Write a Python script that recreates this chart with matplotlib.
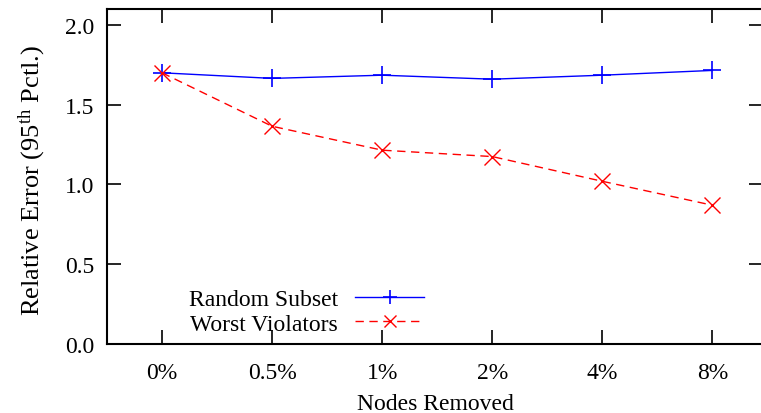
import matplotlib
matplotlib.use("Agg")
import matplotlib.pyplot as plt
import numpy as np

categories = ["0%", "0.5%", "1%", "2%", "4%", "8%"]
random_subset = [1.70, 1.665, 1.685, 1.66, 1.685, 1.715]
worst_violators = [1.70, 1.365, 1.215, 1.175, 1.02, 0.87]
yticks = [0.0, 0.5, 1.0, 1.5, 2.0]

plt.rcParams["font.family"] = ["Liberation Serif", "DejaVu Serif"]
plt.rcParams["mathtext.fontset"] = "custom"
plt.rcParams["mathtext.rm"] = "Liberation Serif"
plt.rcParams["mathtext.it"] = "Liberation Serif"

FS = 17

fig = plt.figure(figsize=(7.61, 4.14), dpi=100)
ax = fig.add_axes([107 / 761, 1 - 345 / 414, (763 - 107) / 761, (345 - 10) / 414])

x = np.arange(len(categories))
ax.plot(x, random_subset, color="#0000ff", lw=1.0, marker="+", ms=13, mew=1.2,
        label="Random Subset")
ax.plot(x, worst_violators, color="#ff0000", lw=1.0, ls=(0, (6, 4)), marker="x",
        ms=11, mew=1.0, label="Worst Violators")

ax.set_xlim(-0.5, 5.46)
ax.set_ylim(0, 2.1)
ax.set_xticks(x)
ax.set_xticklabels(categories)
ax.set_yticks(yticks)
ax.set_yticklabels([f"{v:.1f}" for v in yticks])
ax.tick_params(direction="in", length=10, width=1.2, labelsize=FS,
               top=True, right=True, pad=13)
ax.tick_params(axis="y", pad=9)
for s in ax.spines.values():
    s.set_linewidth(1.5)

ax.set_xlabel("Nodes Removed", fontsize=FS, labelpad=7)
ax.set_ylabel("Relative Error (95$^{\\mathrm{th}}$ Pctl.)", fontsize=19)
ax.yaxis.set_label_coords(-0.09, 0.49)

leg = ax.legend(loc="lower left", bbox_to_anchor=(0.11, 0.0), markerfirst=False,
                frameon=False, fontsize=FS, handlelength=2.9, handletextpad=0.75,
                labelspacing=0.12, borderaxespad=0.0, markerscale=0.75)

fig.savefig("out.png", dpi=100)
